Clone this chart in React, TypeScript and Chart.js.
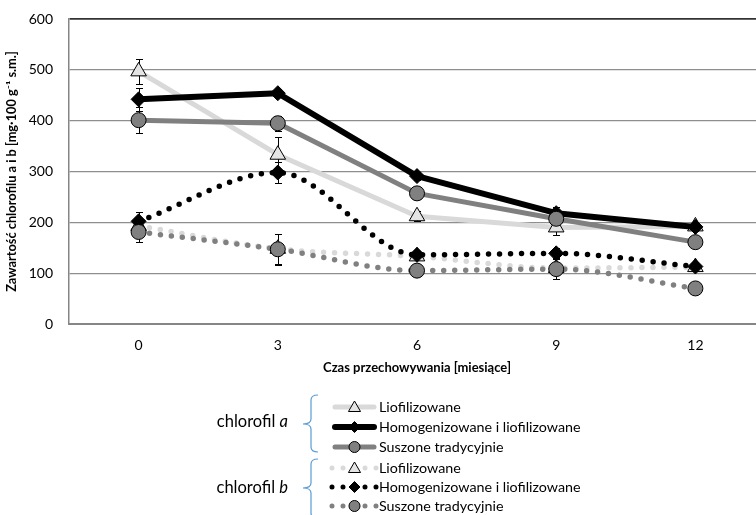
import React, { useEffect, useRef } from 'react';
import { Chart, registerables } from 'chart.js';

Chart.register(...registerables);

// ---- data ----
const months = ['0', '3', '6', '9', '12'];

const aLio = [497, 333, 212, 190, 192];
const aHom = [442, 454, 291, 218, 191];
const aSus = [401, 395, 257, 207, 161];
const bLio = [193, 148, 133, 110, 112];
const bHom = [202, 298, 136, 139, 113];
const bSus = [181, 147, 105, 108, 70];

const aLioErr = [24, 35, 10, 15, 8];
const aHomErr = [23, 8, 8, 12, 8];
const aSusErr = [25, 15, 12, 10, 8];
const bLioErr = [10, 30, 8, 10, 8];
const bHomErr = [19, 20, 8, 10, 8];
const bSusErr = [20, 30, 8, 20, 8];

const seriesNames = ['Liofilizowane', 'Homogenizowane i liofilizowane', 'Suszone tradycyjnie'];
const groupNames = ['a', 'b'];
const yTitle = 'Zawartość chlorofilu a i b [mg·100 g⁻¹ s.m.]';
const xTitle = 'Czas przechowywania [miesiące]';

// ---- styles ----
const LIGHT = '#d9d9d9';
const BLACK = '#000000';
const GRAY = '#808080';
const TRI_FILL = '#e4e4e4';
const FONT = 'Lato, "Open Sans", sans-serif';

type Style = {
  color: string;
  width: number;
  marker: 'triangle' | 'diamond' | 'circle';
  fill: string;
  dotted: boolean;
};

const styles: Style[] = [
  { color: LIGHT, width: 5, marker: 'triangle', fill: TRI_FILL, dotted: false },
  { color: BLACK, width: 6, marker: 'diamond', fill: BLACK, dotted: false },
  { color: GRAY, width: 5, marker: 'circle', fill: GRAY, dotted: false },
  { color: LIGHT, width: 5.5, marker: 'triangle', fill: TRI_FILL, dotted: true },
  { color: BLACK, width: 5.5, marker: 'diamond', fill: BLACK, dotted: true },
  { color: GRAY, width: 5.5, marker: 'circle', fill: GRAY, dotted: true },
];

const seriesData = [aLio, aHom, aSus, bLio, bHom, bSus];
const seriesErr = [aLioErr, aHomErr, aSusErr, bLioErr, bHomErr, bSusErr];

const pointStyleMap: Record<string, string> = { triangle: 'triangle', diamond: 'rectRot', circle: 'circle' };
const pointRadiusMap: Record<string, number> = { triangle: 9, diamond: 7.5, circle: 7.5 };

function drawMarker(ctx: CanvasRenderingContext2D, kind: string, x: number, y: number, r: number, fill: string) {
  ctx.beginPath();
  if (kind === 'triangle') {
    ctx.moveTo(x, y - r);
    ctx.lineTo(x + r * 0.866, y + r * 0.5);
    ctx.lineTo(x - r * 0.866, y + r * 0.5);
    ctx.closePath();
  } else if (kind === 'diamond') {
    ctx.moveTo(x, y - r);
    ctx.lineTo(x + r, y);
    ctx.lineTo(x, y + r);
    ctx.lineTo(x - r, y);
    ctx.closePath();
  } else {
    ctx.arc(x, y, r, 0, Math.PI * 2);
  }
  ctx.fillStyle = fill;
  ctx.fill();
  ctx.lineWidth = 1;
  ctx.strokeStyle = '#000';
  ctx.stroke();
}

const errorBarPlugin = {
  id: 'errorBars',
  beforeDatasetsDraw(chart: any) {
    const ctx = chart.ctx as CanvasRenderingContext2D;
    const ys = chart.scales.y;
    ctx.save();
    ctx.strokeStyle = '#000';
    ctx.lineWidth = 1;
    chart.data.datasets.forEach((ds: any, i: number) => {
      const errs = seriesErr[i];
      const meta = chart.getDatasetMeta(i);
      meta.data.forEach((pt: any, j: number) => {
        const v = ds.data[j];
        const e = errs[j];
        const x = Math.round(pt.x) + 0.5;
        const t = Math.round(ys.getPixelForValue(v + e)) + 0.5;
        const b = Math.round(ys.getPixelForValue(v - e)) + 0.5;
        ctx.beginPath();
        ctx.moveTo(x, t);
        ctx.lineTo(x, b);
        ctx.moveTo(x - 3.5, t);
        ctx.lineTo(x + 3.5, t);
        ctx.moveTo(x - 3.5, b);
        ctx.lineTo(x + 3.5, b);
        ctx.stroke();
      });
    });
    ctx.restore();
  },
};

const legendPlugin = {
  id: 'groupLegend',
  afterDraw(chart: any) {
    const ctx = chart.ctx as CanvasRenderingContext2D;
    ctx.save();
    const rowYs = [407, 427, 447, 468, 487, 506];
    const swX0 = 333;
    const swX1 = 376;
    const swMid = 354.5;
    const textX = 379;
    styles.forEach((s, i) => {
      const y = rowYs[i];
      ctx.save();
      ctx.beginPath();
      ctx.strokeStyle = s.color;
      ctx.lineWidth = s.dotted ? 5 : s.width;
      ctx.lineCap = 'round';
      if (s.dotted) ctx.setLineDash([0, 11]);
      ctx.moveTo(s.dotted ? swX0 - 1 : swX0 + 2, y);
      ctx.lineTo(s.dotted ? swX1 + 1 : swX1 - 2, y);
      ctx.stroke();
      ctx.restore();
      const r = s.marker === 'triangle' ? 7 : 5.5;
      drawMarker(ctx, s.marker, swMid, s.marker === 'triangle' ? y + 1 : y, r, s.fill);
      ctx.fillStyle = '#000';
      ctx.font = `14.3px ${FONT}`;
      ctx.textBaseline = 'middle';
      ctx.textAlign = 'left';
      ctx.fillText(seriesNames[i % 3], textX, y);
    });

    const groupYs = [422, 488];
    groupNames.forEach((g, k) => {
      const y = groupYs[k];
      ctx.textBaseline = 'middle';
      ctx.textAlign = 'left';
      ctx.font = `16.5px ${FONT}`;
      const w1 = ctx.measureText('chlorofil ').width;
      ctx.font = `italic 16.5px ${FONT}`;
      const w2 = ctx.measureText(g).width;
      const x0 = 288 - w1 - w2;
      ctx.fillStyle = '#000';
      ctx.font = `16.5px ${FONT}`;
      ctx.fillText('chlorofil ', x0, y);
      ctx.font = `italic 16.5px ${FONT}`;
      ctx.fillText(g, x0 + w1, y);
    });

    const brace = (top: number, tip: number, bottom: number) => {
      const xr = 318;
      const xv = 311;
      const xt = 303;
      ctx.beginPath();
      ctx.moveTo(xr, top);
      ctx.quadraticCurveTo(xv, top, xv, top + 5);
      ctx.lineTo(xv, tip - 5);
      ctx.quadraticCurveTo(xv, tip, xt, tip);
      ctx.quadraticCurveTo(xv, tip, xv, tip + 5);
      ctx.lineTo(xv, bottom - 5);
      ctx.quadraticCurveTo(xv, bottom, xr, bottom);
      ctx.strokeStyle = '#5b9bd5';
      ctx.lineWidth = 1.2;
      ctx.stroke();
    };
    brace(395, 424, 452);
    brace(459, 488, 518);
    ctx.restore();
  },
};

export default function App() {
  const ref = useRef<HTMLCanvasElement | null>(null);

  useEffect(() => {
    if (!ref.current) return;
    const datasets = styles.map((s, i) => ({
      label: (i < 3 ? 'chlorofil a – ' : 'chlorofil b – ') + seriesNames[i % 3],
      data: seriesData[i],
      borderColor: s.color,
      backgroundColor: s.color,
      borderWidth: s.width,
      borderDash: s.dotted ? [0, 11] : [],
      borderCapStyle: s.dotted ? 'round' : 'butt',
      borderJoinStyle: 'round',
      tension: s.dotted ? 0.4 : 0,
      cubicInterpolationMode: s.dotted ? 'monotone' : 'default',
      pointStyle: pointStyleMap[s.marker],
      pointRadius: pointRadiusMap[s.marker],
      pointBackgroundColor: s.fill,
      pointBorderColor: '#000',
      pointBorderWidth: 1,
      order: 6 - i,
      fill: false,
      clip: 20,
    }));

    const chart = new Chart(ref.current, {
      type: 'line',
      data: { labels: months, datasets: datasets as any },
      options: {
        responsive: false,
        maintainAspectRatio: false,
        animation: false,
        devicePixelRatio: 1,
        layout: { padding: { left: 0, top: 19, right: 0, bottom: 131 } },
        plugins: {
          legend: { display: false },
          tooltip: { enabled: false },
        },
        scales: {
          x: {
            type: 'category',
            offset: true,
            grid: { display: false, drawTicks: false },
            border: { display: true, color: '#868686', width: 2 },
            ticks: { color: '#000', font: { family: FONT, size: 14 }, padding: 13 },
            title: {
              display: true,
              text: xTitle,
              color: '#000',
              font: { family: FONT, size: 13, weight: 'bold' },
              padding: { top: 0, bottom: 8 },
            },
            afterFit: (scale: any) => {
              scale.height = 60;
              scale.paddingLeft = 0;
              scale.paddingRight = 0;
            },
          },
          y: {
            min: 0,
            max: 600,
            ticks: { stepSize: 100, color: '#000', font: { family: FONT, size: 14 }, padding: 16 },
            grid: {
              drawTicks: false,
              color: (c: any) => (c.tick && c.tick.value === 600 ? '#333333' : '#8e8e8e'),
              lineWidth: (c: any) => (c.tick && c.tick.value === 600 ? 1.8 : 1.2),
            },
            border: { display: true, color: '#868686', width: 1.5 },
            title: {
              display: true,
              text: yTitle,
              color: '#000',
              font: { family: FONT, size: 12.8, weight: 'bold' },
              padding: { top: 4, bottom: 4 },
            },
            afterFit: (scale: any) => {
              scale.width = 69;
              scale.paddingTop = 0;
              scale.paddingBottom = 0;
            },
          },
        },
      },
      plugins: [errorBarPlugin, legendPlugin],
    } as any);

    return () => chart.destroy();
  }, []);

  return (
    <div
      style={{
        position: 'fixed',
        left: 0,
        top: 0,
        width: 756,
        height: 515,
        overflow: 'hidden',
        background: '#ffffff',
      }}
    >
      <div style={{ width: 775, height: 515 }}>
        <canvas ref={ref} width={775} height={515} style={{ display: 'block', width: 775, height: 515 }} />
      </div>
    </div>
  );
}
